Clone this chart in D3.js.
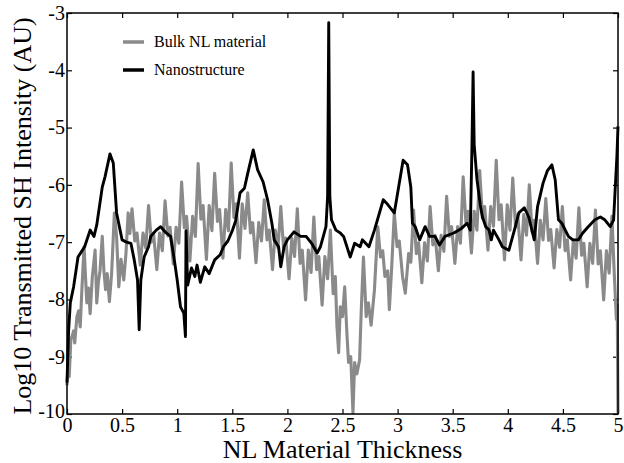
<!DOCTYPE html>
<meta charset="utf-8">
<title>SH intensity vs thickness</title>
<style>
  body { margin: 0; background: #fff; }
  svg { display: block; font-family: "Liberation Serif", "Times New Roman", serif; }
  .axis path { display: none; }
  .axis line { stroke: #000; stroke-width: 1.2; }
  .axis text { font-family: "Liberation Serif", serif; font-size: 20px; fill: #000; }
</style>
<body>
<svg id="chart" width="624" height="463"></svg>
<script src="https://d3js.org/d3.v7.min.js"></script>
<script>
// tick values / labels
var xTicks = [0, 0.5, 1, 1.5, 2, 2.5, 3, 3.5, 4, 4.5, 5];
var xTickLabels = ["0", "0.5", "1", "1.5", "2", "2.5", "3", "3.5", "4", "4.5", "5"];
var yTicks = [-10, -9, -8, -7, -6, -5, -4, -3];
var yTickLabels = ["-10", "-9", "-8", "-7", "-6", "-5", "-4", "-3"];

var seriesNames = ["Bulk NL material", "Nanostructure"];

// bulk NL material: [thickness, log10 intensity]
var bulk = [
  [0,-9.5],[0.01,-9.1],[0.02,-9.35],[0.035,-8.7],[0.045,-8.65],[0.06,-8.55],[0.07,-8.76],[0.09,-8.3],
  [0.105,-8.2],[0.12,-8.48],[0.135,-7.83],[0.155,-7.08],[0.165,-7.49],[0.18,-8.06],[0.195,-7.8],[0.21,-8.25],
  [0.23,-7.6],[0.255,-7.14],[0.27,-8.06],[0.285,-7.7],[0.3,-7.49],[0.32,-6.9],[0.335,-7.5],[0.35,-7.83],
  [0.365,-7.55],[0.385,-8.04],[0.405,-7.54],[0.43,-6.49],[0.45,-6.9],[0.47,-7.78],[0.49,-7.3],[0.515,-7.66],
  [0.535,-7.2],[0.555,-6.49],[0.57,-6.85],
  [0.59,-6.42],[0.615,-6.98],[0.635,-6.84],[0.665,-7.4],[0.69,-6.84],[0.715,-7.1],
  [0.74,-6.36],[0.765,-7.0],[0.785,-6.84],[0.815,-7.48],[0.84,-6.84],[0.865,-7.15],
  [0.89,-6.28],[0.915,-6.89],[0.935,-6.74],[0.965,-7.38],[0.99,-6.74],[1.015,-7.02],
  [1.04,-5.95],[1.065,-6.75],[1.085,-6.55],[1.115,-7.33],[1.14,-6.55],[1.165,-6.9],
  [1.19,-5.63],[1.215,-6.6],[1.235,-6.36],[1.265,-7.3],[1.29,-6.36],[1.315,-6.8],
  [1.34,-5.8],[1.365,-6.64],[1.385,-6.43],[1.415,-7.28],[1.44,-6.43],[1.465,-6.8],
  [1.49,-5.62],[1.515,-6.57],[1.535,-6.33],[1.565,-7.28],[1.59,-6.33],[1.615,-6.76],
  [1.64,-6.14],[1.665,-6.84],[1.685,-6.66],[1.715,-7.36],[1.74,-6.66],[1.765,-6.98],
  [1.79,-6.26],[1.815,-6.96],[1.835,-6.79],[1.865,-7.48],[1.89,-6.79],[1.915,-7.1],
  [1.94,-6.38],[1.965,-7.11],[1.985,-6.93],[2.015,-7.64],[2.04,-6.93],[2.065,-7.25],
  [2.09,-6.42],[2.115,-7.37],[2.135,-7.14],[2.165,-8.01],[2.19,-7.14],[2.215,-7.53],
  [2.24,-6.56],[2.265,-7.48],[2.285,-7.25],[2.315,-8.1],[2.34,-7.25],[2.365,-7.64],
  [2.39,-6.79],[2.415,-7.9],[2.435,-7.6],[2.45,-8.48],[2.465,-8.93],[2.48,-8.13],[2.5,-8.3],[2.52,-7.78],
  [2.54,-8.6],[2.555,-9.1],[2.575,-9.0],[2.595,-9.98],[2.61,-9.1],[2.63,-9.3],[2.655,-9.06],[2.67,-8.2],
  [2.69,-7.26],[2.715,-8.3],[2.735,-8.06],[2.76,-8.45],[2.79,-7.83],[2.82,-6.73],[2.845,-7.26],[2.865,-7.15],
  [2.885,-7.6],[2.91,-7.5],[2.925,-8.18],[2.945,-7.49],[2.97,-6.49],[2.995,-7.08],[3.015,-6.98],[3.045,-7.6],
  [3.07,-7.89],[3.1,-7.2],[3.12,-7.35],
  [3.145,-6.44],[3.17,-7.2],[3.19,-7.01],[3.22,-7.71],[3.245,-7.01],[3.27,-7.33],
  [3.295,-6.38],[3.32,-7.05],[3.34,-6.88],[3.37,-7.5],[3.395,-6.88],[3.42,-7.16],
  [3.445,-6.2],[3.47,-6.9],[3.49,-6.73],[3.52,-7.37],[3.545,-6.73],[3.57,-7.02],
  [3.595,-5.86],[3.62,-6.66],[3.64,-6.46],[3.67,-7.19],[3.695,-6.46],[3.72,-6.79],
  [3.745,-5.75],[3.77,-6.58],[3.79,-6.38],[3.82,-7.14],[3.845,-6.38],[3.87,-6.72],
  [3.895,-5.57],[3.92,-6.61],[3.94,-6.35],[3.97,-7.31],[3.995,-6.35],[4.02,-6.79],
  [4.045,-5.88],[4.07,-6.74],[4.09,-6.52],[4.12,-7.31],[4.145,-6.52],[4.17,-6.88],
  [4.195,-6.0],[4.22,-6.82],[4.24,-6.62],[4.27,-7.37],[4.295,-6.62],[4.32,-6.96],
  [4.345,-6.24],[4.37,-6.97],[4.39,-6.78],[4.42,-7.45],[4.445,-6.78],[4.47,-7.09],
  [4.495,-6.38],[4.52,-7.15],[4.54,-6.96],[4.57,-7.66],[4.595,-6.96],[4.62,-7.28],
  [4.645,-6.4],[4.67,-7.23],[4.69,-7.02],[4.72,-7.78],[4.745,-7.02],[4.77,-7.37],
  [4.795,-6.44],[4.82,-7.38],[4.84,-7.15],[4.87,-8.01],[4.895,-7.15],[4.92,-7.54],
  [4.945,-6.55],[4.965,-7.5],[4.985,-8.35],[4.993,-8.1],[5.0,-9.98]
];

// nanostructure: [thickness, log10 intensity]
var nano = [
  [0,-9.45],[0.015,-8.53],[0.03,-8.06],[0.06,-7.78],[0.1,-7.26],[0.13,-7.17],[0.16,-7.08],[0.21,-6.79],
  [0.245,-6.9],[0.27,-6.7],[0.32,-6.04],[0.345,-5.86],[0.39,-5.46],[0.42,-5.62],[0.45,-6.49],[0.5,-6.96],
  [0.54,-7.0],[0.58,-7.02],[0.61,-7.31],[0.64,-7.66],[0.655,-8.53],[0.67,-7.66],[0.7,-7.26],[0.74,-7.08],
  [0.76,-6.9],[0.81,-6.79],[0.85,-6.73],[0.9,-6.84],[0.94,-6.9],[0.97,-7.26],[1.0,-7.66],[1.03,-8.13],
  [1.06,-8.24],[1.075,-8.65],[1.08,-6.8],[1.095,-7.75],[1.13,-7.45],[1.16,-7.6],[1.18,-7.4],[1.21,-7.7],
  [1.25,-7.43],[1.29,-7.55],[1.34,-7.31],[1.39,-7.22],[1.42,-7.08],[1.46,-6.98],[1.5,-6.8],[1.53,-6.63],
  [1.57,-6.14],[1.61,-6.06],[1.64,-5.8],[1.69,-5.39],[1.73,-5.74],[1.78,-5.95],[1.82,-6.26],[1.86,-6.68],
  [1.88,-6.96],[1.92,-7.08],[1.94,-7.43],[1.97,-7.08],[2.0,-6.96],[2.06,-6.82],[2.12,-6.9],[2.17,-6.9],
  [2.22,-7.02],[2.27,-7.19],[2.3,-7.08],[2.35,-6.73],[2.365,-6.2],[2.375,-3.17],[2.385,-6.2],[2.4,-6.61],
  [2.44,-6.79],[2.48,-6.84],[2.51,-6.9],[2.57,-7.26],[2.61,-7.02],[2.66,-7.08],[2.68,-6.96],[2.74,-7.08],
  [2.79,-6.79],[2.87,-6.26],[2.9,-6.32],[2.97,-6.49],[3.05,-5.57],[3.09,-5.65],[3.12,-6.04],[3.135,-6.67],
  [3.16,-6.73],[3.2,-6.96],[3.25,-6.73],[3.29,-6.9],[3.34,-6.9],[3.38,-7.05],[3.43,-6.9],[3.51,-6.84],
  [3.58,-6.76],[3.63,-6.67],[3.66,-6.79],[3.675,-5.3],[3.685,-4.03],[3.695,-5.3],[3.72,-5.9],[3.75,-6.35],
  [3.77,-6.56],[3.8,-6.73],[3.83,-6.79],[3.85,-6.96],[3.87,-6.79],[3.92,-6.96],[3.95,-7.08],[4.01,-7.14],
  [4.06,-6.79],[4.1,-6.49],[4.15,-6.4],[4.19,-6.56],[4.24,-6.96],[4.27,-6.38],[4.32,-5.97],[4.36,-5.75],
  [4.4,-5.65],[4.43,-5.91],[4.46,-6.61],[4.49,-6.67],[4.55,-6.9],[4.59,-6.96],[4.64,-6.96],[4.68,-6.84],
  [4.73,-6.73],[4.79,-6.61],[4.84,-6.56],[4.88,-6.61],[4.93,-6.73],[4.96,-6.61],[4.99,-5.5],[5.0,-4.98]
];

var svg = d3.select("#chart");
var plotLeft = 67, plotRight = 618, plotTop = 13, plotBottom = 414;

var x = d3.scaleLinear().domain([0, 5]).range([plotLeft, plotRight]);
var y = d3.scaleLinear().domain([-10, -3]).range([plotBottom, plotTop]);

svg.append("rect").attr("width", 624).attr("height", 463).attr("fill", "#fff");

// axes, ticks pointing inward on all four sides
svg.append("g").attr("class", "axis")
    .attr("transform", "translate(0," + plotBottom + ")")
    .call(d3.axisBottom(x).tickValues(xTicks).tickSize(-5).tickPadding(4)
      .tickFormat(function(d, i) { return xTickLabels[i]; }));

svg.append("g").attr("class", "axis")
    .attr("transform", "translate(0," + plotTop + ")")
    .call(d3.axisTop(x).tickValues(xTicks).tickSize(-5).tickFormat(""));

svg.append("g").attr("class", "axis")
    .attr("transform", "translate(" + plotLeft + ",0)")
    .call(d3.axisLeft(y).tickValues(yTicks).tickSize(-5).tickPadding(2)
      .tickFormat(function(d, i) { return yTickLabels[i]; }));

// nudge the bottom "-10" label up so it clears the "0" below it
svg.selectAll(".axis text").filter(function(d) { return d === -10; }).attr("dy", "0.15em");

svg.append("g").attr("class", "axis")
    .attr("transform", "translate(" + plotRight + ",0)")
    .call(d3.axisRight(y).tickValues(yTicks).tickSize(-5).tickFormat(""));

var line = d3.line()
    .x(function(d) { return x(d[0]); })
    .y(function(d) { return y(d[1]); });

svg.append("path")
    .datum(bulk)
    .attr("d", line)
    .attr("fill", "none")
    .attr("stroke", "#8a8a8a")
    .attr("stroke-width", 3.1)
    .attr("stroke-linejoin", "round");

svg.append("path")
    .datum(nano)
    .attr("d", line)
    .attr("fill", "none")
    .attr("stroke", "#000")
    .attr("stroke-width", 2.9)
    .attr("stroke-linejoin", "round");

// frame
svg.append("rect")
    .attr("x", plotLeft).attr("y", plotTop)
    .attr("width", plotRight - plotLeft).attr("height", plotBottom - plotTop)
    .attr("fill", "none").attr("stroke", "#000").attr("stroke-width", 1.5);

// legend
var legend = svg.append("g");
var legendColors = ["#8a8a8a", "#000"];
seriesNames.forEach(function(name, i) {
  var ly = 42 + i * 28;
  legend.append("line")
      .attr("x1", 123).attr("x2", 144)
      .attr("y1", ly).attr("y2", ly)
      .attr("stroke", legendColors[i]).attr("stroke-width", 3.5);
  legend.append("text")
      .attr("x", 154).attr("y", ly + 4.5)
      .attr("font-size", 16)
      .text(name);
});

// axis titles
svg.append("text")
    .attr("x", (plotLeft + plotRight) / 2)
    .attr("y", 458)
    .attr("text-anchor", "middle")
    .attr("font-size", 26)
    .text("NL Material Thickness");

svg.append("text")
    .attr("transform", "translate(31,216) rotate(-90)")
    .attr("text-anchor", "middle")
    .attr("font-size", 26)
    .text("Log10 Transmitted SH Intensity (AU)");
</script>
</body>
